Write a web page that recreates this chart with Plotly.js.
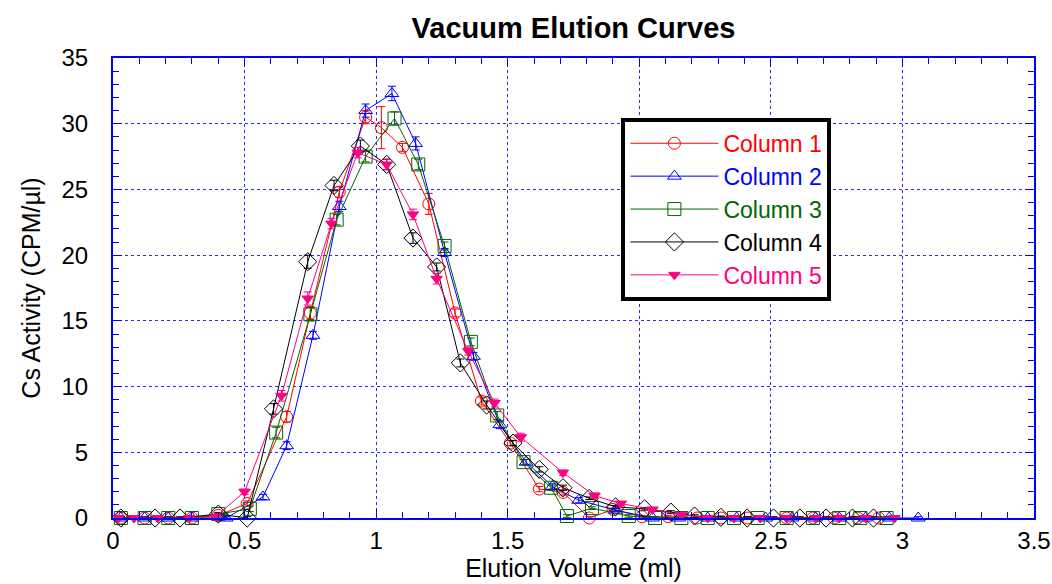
<!DOCTYPE html>
<html>
<head>
<meta charset="utf-8">
<script src="https://cdn.plot.ly/plotly-3.0.1.min.js"></script>
<style>html,body{margin:0;padding:0;background:#fff;}#chart{width:1052px;height:584px;}</style>
</head>
<body>
<div id="chart"></div>
<script>
// ---- Data ----
const seriesNames = ["Column 1", "Column 2", "Column 3", "Column 4", "Column 5"];

const col1X = [0.03, 0.12, 0.21, 0.30, 0.40, 0.51, 0.66, 0.75, 0.86, 0.96, 1.02, 1.10, 1.20, 1.30, 1.40, 1.51, 1.62, 1.71, 1.81, 1.90, 2.01, 2.11, 2.22, 2.31, 2.41, 2.56, 2.66, 2.74, 2.83, 2.91];
const col1Y = [0, 0, 0, 0, 0.2, 1.1, 7.7, 15.6, 24.8, 30.5, 29.7, 28.2, 23.9, 15.6, 8.9, 5.7, 2.2, 1.95, 0, 0.65, 0.1, 0.1, 0, 0, 0, 0, 0, 0, 0, 0];
const col1Err = [0.1, 0.1, 0.1, 0.1, 0.1, 0.2, 0.4, 0.5, 0.4, 0.5, 1.6, 0.3, 0.8, 0.3, 0.3, 0.2, 0.2, 0.2, 0.1, 0.1, 0.1, 0.1, 0.1, 0.1, 0.1, 0.1, 0.1, 0.1, 0.1, 0.1];

const col2X = [0.03, 0.12, 0.21, 0.30, 0.43, 0.57, 0.66, 0.76, 0.86, 0.96, 1.06, 1.15, 1.26, 1.37, 1.47, 1.57, 1.67, 1.77, 1.91, 2.05, 2.15, 2.26, 2.37, 2.48, 2.58, 2.67, 2.76, 2.86, 2.95, 3.06];
const col2Y = [0, 0, 0, 0, 0, 1.6, 5.5, 13.9, 23.7, 31.0, 32.3, 28.5, 20.2, 12.3, 7.1, 4.25, 2.4, 1.35, 0.6, 0, 0, 0, 0, 0, 0, 0, 0, 0, 0, 0];
const col2Err = [0.1, 0.1, 0.1, 0.1, 0.1, 0.2, 0.3, 0.3, 0.4, 0.5, 0.55, 0.5, 0.3, 0.3, 0.3, 0.2, 0.2, 0.2, 0.1, 0.1, 0.1, 0.1, 0.1, 0.1, 0.1, 0.1, 0.1, 0.1, 0.1, 0.1];

const col3X = [0.03, 0.12, 0.21, 0.30, 0.40, 0.52, 0.62, 0.75, 0.85, 0.96, 1.07, 1.16, 1.26, 1.36, 1.46, 1.56, 1.665, 1.725, 1.82, 1.96, 2.06, 2.16, 2.26, 2.36, 2.45, 2.56, 2.66, 2.76, 2.84, 2.94];
const col3Y = [0, 0, 0, 0, 0.3, 0.7, 6.5, 15.5, 22.7, 27.5, 30.4, 26.9, 20.7, 13.4, 7.8, 4.25, 2.3, 0.15, 0.75, 0.15, 0, 0, 0, 0, 0, 0, 0, 0, 0, 0];
const col3Err = [0.1, 0.1, 0.1, 0.1, 0.1, 0.2, 0.4, 0.5, 0.4, 0.4, 0.5, 0.4, 0.3, 0.3, 0.3, 0.2, 0.2, 0.1, 0.1, 0.1, 0.1, 0.1, 0.1, 0.1, 0.1, 0.1, 0.1, 0.1, 0.1, 0.1];

const col4X = [0.03, 0.16, 0.255, 0.40, 0.51, 0.61, 0.74, 0.84, 0.94, 1.04, 1.14, 1.23, 1.32, 1.42, 1.52, 1.62, 1.71, 1.81, 1.91, 2.02, 2.12, 2.21, 2.31, 2.41, 2.51, 2.61, 2.71, 2.81, 2.89];
const col4Y = [0, 0, 0, 0.3, 0, 8.3, 19.5, 25.3, 28.3, 26.9, 21.3, 19.1, 11.8, 8.6, 5.7, 3.7, 2.3, 1.5, 0.85, 0.7, 0.45, 0.15, 0.05, 0, 0, 0, 0, 0, 0];
const col4Err = [0.1, 0.1, 0.1, 0.1, 0.1, 0.4, 0.5, 0.4, 0.45, 0.4, 0.4, 0.3, 0.3, 0.3, 0.2, 0.2, 0.2, 0.1, 0.1, 0.1, 0.1, 0.1, 0.1, 0.1, 0.1, 0.1, 0.1, 0.1, 0.1];

const col5X = [0.02, 0.08, 0.17, 0.29, 0.39, 0.50, 0.64, 0.74, 0.83, 0.93, 1.04, 1.14, 1.23, 1.35, 1.45, 1.55, 1.71, 1.83, 1.93, 2.05, 2.16, 2.26, 2.36, 2.46, 2.56, 2.67, 2.76, 2.86, 2.97];
const col5Y = [0, 0, 0, 0, 0.1, 2.0, 9.3, 16.7, 22.4, 27.8, 26.9, 23.1, 18.2, 12.7, 8.75, 6.15, 3.45, 1.7, 1.1, 0.65, 0.25, 0, 0, 0, 0, 0, 0, 0, 0];
const col5Err = [0.1, 0.1, 0.1, 0.1, 0.1, 0.2, 0.4, 0.5, 0.4, 0.4, 0.4, 0.4, 0.4, 0.3, 0.3, 0.3, 0.2, 0.2, 0.1, 0.1, 0.1, 0.1, 0.1, 0.1, 0.1, 0.1, 0.1, 0.1, 0.1];

const xTickVals = [0, 0.5, 1, 1.5, 2, 2.5, 3, 3.5];
const xTickText = ["0", "0.5", "1", "1.5", "2", "2.5", "3", "3.5"];
const yTickVals = [0, 5, 10, 15, 20, 25, 30, 35];
const yTickText = ["0", "5", "10", "15", "20", "25", "30", "35"];

// ---- Styles ----
const colors = ["#ff0000", "#0000ff", "#006600", "#000000", "#ff0080"];
const symbols = ["circle-open", "triangle-up-open", "square-open", "diamond-open", "triangle-down"];
const sizes = [12, 12, 13, 14, 10];
const xs = [col1X, col2X, col3X, col4X, col5X];
const ys = [col1Y, col2Y, col3Y, col4Y, col5Y];
const errs = [col1Err, col2Err, col3Err, col4Err, col5Err];

const traces = seriesNames.map((name, i) => ({
  type: "scatter",
  mode: "lines+markers",
  name: '<span style="color:' + colors[i] + '">' + name + '</span>',
  x: xs[i],
  y: ys[i],
  line: { color: colors[i], width: 1 },
  marker: { symbol: symbols[i], size: sizes[i], color: colors[i], line: { color: colors[i], width: 1 } },
  error_y: { type: "data", array: errs[i], visible: true, color: colors[i], thickness: 1, width: 4 },
  cliponaxis: false
}));

const FONT = "Arial, Liberation Sans, sans-serif";
const gridBlue = "#2b2bff";
const axisCommon = {
  showline: true, linecolor: "#0000ff", linewidth: 2, mirror: "ticks",
  ticks: "inside", tickcolor: "#0000ff", ticklen: 9, tickwidth: 1,
  showgrid: true, gridcolor: gridBlue, griddash: "dot", gridwidth: 1,
  zeroline: false,
  tickfont: { family: FONT, size: 24, color: "#000" }
};

const layout = {
  width: 1052, height: 584,
  margin: { l: 113, r: 18, t: 58, b: 66 },
  paper_bgcolor: "#fff", plot_bgcolor: "#fff",
  font: { family: FONT, color: "#000" },
  title: {
    text: "<b>Vacuum Elution Curves</b>",
    font: { family: FONT, size: 29, color: "#000" },
    xref: "paper", x: 0.5, xanchor: "center",
    yref: "container", y: 0.953, yanchor: "middle"
  },
  xaxis: Object.assign({}, axisCommon, {
    range: [0, 3.5], tickmode: "array", tickvals: xTickVals, ticktext: xTickText,
    ticklabelstandoff: 0,
    minor: { dtick: 0.1, ticks: "inside", ticklen: 6, tickcolor: "#0000ff", showgrid: false },
    title: { text: "Elution Volume (ml)", font: { size: 25, family: FONT }, standoff: 4 }
  }),
  yaxis: Object.assign({}, axisCommon, {
    range: [0, 35], tickmode: "array", tickvals: yTickVals, ticktext: yTickText,
    ticklabelstandoff: 18,
    minor: { dtick: 1, ticks: "inside", ticklen: 6, tickcolor: "#0000ff", showgrid: false },
    title: { text: "Cs Activity (CPM/µl)", font: { size: 25, family: FONT }, standoff: 14 }
  }),
  legend: {
    x: 0.552, y: 0.870, xanchor: "left", yanchor: "top",
    bgcolor: "#fff", bordercolor: "#000", borderwidth: 4,
    font: { family: FONT, size: 23 },
    itemwidth: 88, tracegroupgap: 0
  },
  showlegend: true
};

Plotly.newPlot("chart", traces, layout, { displayModeBar: false, staticPlot: true });
</script>
</body>
</html>
